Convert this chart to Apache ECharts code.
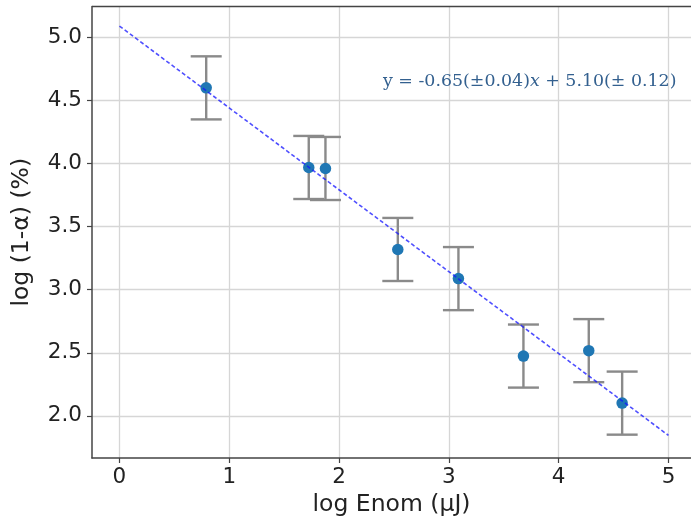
<!DOCTYPE html>
<html><head><meta charset="utf-8">
<script src="https://cdn.jsdelivr.net/npm/echarts@6/dist/echarts.min.js"></script>
<style>html,body{margin:0;padding:0;background:#fff}#c{width:691px;height:522px}</style>
</head><body><div id="c"></div>
<script>
var xVals = [0.79, 1.724, 1.876, 2.535, 3.087, 3.679, 4.274, 4.578];
var yVals = [4.60, 3.969, 3.961, 3.319, 3.088, 2.474, 2.517, 2.101];
var yErr = [0.25, 0.25, 0.25, 0.25, 0.25, 0.25, 0.25, 0.25];
var fitX = [0, 5];
var fitY = [5.09, 1.845];
var xTicks = [0, 1, 2, 3, 4, 5];
var yTicks = [2.0, 2.5, 3.0, 3.5, 4.0, 4.5, 5.0];

var pts = xVals.map(function(x, i){ return [x, yVals[i]]; });
var errs = xVals.map(function(x, i){ return [x, yVals[i] - yErr[i], yVals[i] + yErr[i]]; });
var fit = fitX.map(function(x, i){ return [x, fitY[i]]; });

var axisColor = '#444';
var gridColor = '#d6d6d6';
var chart = echarts.init(document.getElementById('c'), null, {renderer: 'canvas'});
chart.setOption({
  animation: false,
  backgroundColor: '#fff',
  grid: {left: 92, top: 6.5, right: 0, bottom: 62, containLabel: false},
  xAxis: {
    type: 'value', min: -0.25, max: 5.205,
    name: 'log Enom (μJ)', nameLocation: 'middle', nameGap: 35,
    nameTextStyle: {fontFamily: 'DejaVu Sans', fontSize: 23.5, color: '#222'},
    axisLine: {show: true, onZero: false, lineStyle: {color: axisColor, width: 1.5}},
    axisTick: {show: true, length: 5, lineStyle: {color: axisColor, width: 1.2}, customValues: xTicks},
    axisLabel: {fontFamily: 'DejaVu Sans', fontSize: 21.5, color: '#222', margin: 8, customValues: xTicks,
      formatter: function(v){ return String(v); }},
    splitLine: {show: true, lineStyle: {color: gridColor, width: 1.3}}
  },
  yAxis: {
    type: 'value', min: 1.666, max: 5.245,
    name: 'log (1-α) (%)', nameLocation: 'middle', nameGap: 58,
    nameTextStyle: {fontFamily: 'DejaVu Sans', fontSize: 23.5, color: '#222'},
    axisLine: {show: true, onZero: false, lineStyle: {color: axisColor, width: 1.5}},
    axisTick: {show: true, length: 5, lineStyle: {color: axisColor, width: 1.2}, customValues: yTicks},
    axisLabel: {fontFamily: 'DejaVu Sans', fontSize: 21.5, color: '#222', margin: 10, customValues: yTicks,
      formatter: function(v){ return v.toFixed(1); }},
    splitLine: {show: true, lineStyle: {color: gridColor, width: 1.3}}
  },
  graphic: [
    {type: 'line', shape: {x1: 92, y1: 6.5, x2: 691, y2: 6.5}, style: {stroke: axisColor, lineWidth: 1.5}, z: 10},
    {type: 'text', left: 383, top: 73, z: 10,
      style: {
        text: '{a|y = -0.65(±0.04)}{i|x}{a| + 5.10(± 0.12)}',
        rich: {
          a: {fontFamily: 'DejaVu Serif', fontSize: 17.4, fill: '#33608f'},
          i: {fontFamily: 'DejaVu Serif', fontStyle: 'italic', fontSize: 17.4, fill: '#33608f'}
        }
      }}
  ],
  series: [
    {
      type: 'custom', data: errs, z: 2,
      renderItem: function(params, api){
        var x = api.value(0);
        var lo = api.coord([x, api.value(1)]);
        var hi = api.coord([x, api.value(2)]);
        var cw = 15.5;
        var st = {stroke: '#8a8a8a', lineWidth: 2.4};
        return {type: 'group', children: [
          {type: 'line', shape: {x1: lo[0], y1: lo[1], x2: hi[0], y2: hi[1]}, style: st},
          {type: 'line', shape: {x1: lo[0]-cw, y1: lo[1], x2: lo[0]+cw, y2: lo[1]}, style: st},
          {type: 'line', shape: {x1: hi[0]-cw, y1: hi[1], x2: hi[0]+cw, y2: hi[1]}, style: st}
        ]};
      }
    },
    {
      type: 'scatter', data: pts, symbolSize: 11.5, z: 3,
      itemStyle: {color: '#1f77b4', opacity: 1}
    },
    {
      type: 'line', data: fit, symbol: 'none', z: 4,
      lineStyle: {color: 'rgba(20,20,255,0.75)', width: 1.6, type: [4, 2.5]}
    }
  ]
});
</script></body></html>
